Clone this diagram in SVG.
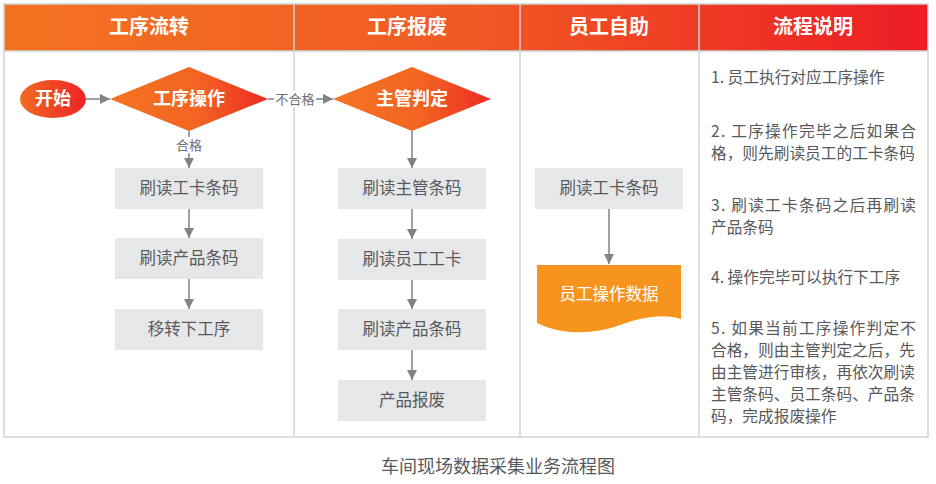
<svg xmlns="http://www.w3.org/2000/svg" width="936" height="484" viewBox="0 0 936 484">
<defs>
<linearGradient id="hdr" x1="0" y1="0" x2="1" y2="0">
<stop offset="0" stop-color="#f37321"/>
<stop offset="0.5" stop-color="#f05a24"/>
<stop offset="1" stop-color="#ed1c24"/>
</linearGradient>
<linearGradient id="dia" x1="0" y1="0" x2="1" y2="0">
<stop offset="0" stop-color="#f37321"/>
<stop offset="0.55" stop-color="#f26522"/>
<stop offset="1" stop-color="#ed2a24"/>
</linearGradient>
<linearGradient id="ell" x1="0" y1="0" x2="1" y2="0">
<stop offset="0" stop-color="#f36a22"/>
<stop offset="1" stop-color="#ed2324"/>
</linearGradient>
<marker id="arr" viewBox="0 0 10 10" refX="10" refY="5" markerWidth="10" markerHeight="10" markerUnits="userSpaceOnUse" orient="auto">
<path d="M0,0 L10,5 L0,10 Z" fill="#808285"/>
</marker>
<style>
text{font-family:"Noto Sans CJK SC","Noto Sans",sans-serif;}
.hd{fill:#fff;font-size:20px;font-weight:bold;text-anchor:middle;}
.wb{fill:#fff;font-size:18px;font-weight:bold;text-anchor:middle;}
.box{fill:#e6e7e8;}
.bt{fill:#58595b;font-size:16.5px;text-anchor:middle;}
.lbl{fill:#6d6e71;font-size:13px;text-anchor:middle;}
.note{fill:#58595b;font-size:15.7px;}
.ln{stroke:#808285;stroke-width:1.5;fill:none;marker-end:url(#arr);}
.grid{stroke:#d1d3d4;stroke-width:1.5;fill:none;}
</style>
</defs>
<rect x="0" y="0" width="936" height="484" fill="#fff"/>
<g id="table">
<rect x="4" y="4" width="924" height="47" fill="url(#hdr)"/>
<rect x="4" y="4" width="924" height="433" class="grid"/>
<line x1="4" y1="51" x2="928" y2="51" class="grid"/>
<line x1="294" y1="4" x2="294" y2="437" class="grid"/>
<line x1="520" y1="4" x2="520" y2="437" class="grid"/>
<line x1="699" y1="4" x2="699" y2="437" class="grid"/>
<text class="hd" x="149" y="34">工序流转</text>
<text class="hd" x="407" y="34">工序报废</text>
<text class="hd" x="609" y="34">员工自助</text>
<text class="hd" x="813" y="34">流程说明</text>
</g>
<g id="connectors">
<line class="ln" x1="86" y1="99" x2="110" y2="99"/>
<line class="ln" x1="268" y1="99" x2="333" y2="99"/>
<rect x="274" y="91" width="42" height="16" fill="#fff"/>
<text class="lbl" x="295" y="104">不合格</text>
<line class="ln" x1="189" y1="131" x2="189" y2="168"/>
<rect x="174" y="137" width="30" height="16" fill="#fff"/>
<text class="lbl" x="189" y="150">合格</text>
<line class="ln" x1="189" y1="209" x2="189" y2="238"/>
<line class="ln" x1="189" y1="279" x2="189" y2="309"/>
<line class="ln" x1="412" y1="131" x2="412" y2="168"/>
<line class="ln" x1="412" y1="209" x2="412" y2="239"/>
<line class="ln" x1="412" y1="280" x2="412" y2="309"/>
<line class="ln" x1="412" y1="350" x2="412" y2="380"/>
<line class="ln" x1="609" y1="209" x2="609" y2="264"/>
</g>
<g id="start">
<ellipse cx="53" cy="99" rx="33" ry="19" fill="url(#ell)"/>
<text class="wb" x="53" y="105">开始</text>
</g>
<g id="op">
<polygon points="110,99 189,67 268,99 189,131" fill="url(#dia)"/>
<text class="wb" x="189" y="105">工序操作</text>
</g>
<g id="judge">
<polygon points="333,99 412,67 491,99 412,131" fill="url(#dia)"/>
<text class="wb" x="412" y="105">主管判定</text>
</g>
<g id="c1b1"><rect class="box" x="115" y="168" width="148" height="41"/><text class="bt" x="189" y="194">刷读工卡条码</text></g>
<g id="c1b2"><rect class="box" x="115" y="238" width="148" height="41"/><text class="bt" x="189" y="264">刷读产品条码</text></g>
<g id="c1b3"><rect class="box" x="115" y="309" width="148" height="41"/><text class="bt" x="189" y="335">移转下工序</text></g>
<g id="c2b1"><rect class="box" x="338" y="168" width="148" height="41"/><text class="bt" x="412" y="194">刷读主管条码</text></g>
<g id="c2b2"><rect class="box" x="338" y="239" width="148" height="41"/><text class="bt" x="412" y="265">刷读员工工卡</text></g>
<g id="c2b3"><rect class="box" x="338" y="309" width="148" height="41"/><text class="bt" x="412" y="335">刷读产品条码</text></g>
<g id="c2b4"><rect class="box" x="338" y="380" width="148" height="41"/><text class="bt" x="412" y="406">产品报废</text></g>
<g id="c3b1"><rect class="box" x="535" y="168" width="148" height="41"/><text class="bt" x="609" y="194">刷读工卡条码</text></g>
<g id="c3doc">
<path d="M537,265 H681 V319 C662,313 640,318 620,325 C598,333 565,337 537,323 Z" fill="#f7941d"/>
<text class="bt" x="609" y="300" style="fill:#fff">员工操作数据</text>
</g>
<g id="notes">
<text class="note" x="711" y="83">1. 员工执行对应工序操作</text>
<text class="note" x="711" y="137" textLength="205" lengthAdjust="spacing">2. 工序操作完毕之后如果合</text>
<text class="note" x="711" y="159">格，则先刷读员工的工卡条码</text>
<text class="note" x="711" y="211" textLength="205" lengthAdjust="spacing">3. 刷读工卡条码之后再刷读</text>
<text class="note" x="711" y="233">产品条码</text>
<text class="note" x="711" y="283">4. 操作完毕可以执行下工序</text>
<text class="note" x="711" y="334" textLength="205" lengthAdjust="spacing">5. 如果当前工序操作判定不</text>
<text class="note" x="711" y="356">合格，则由主管判定之后，先</text>
<text class="note" x="711" y="378">由主管进行审核，再依次刷读</text>
<text class="note" x="711" y="400">主管条码、员工条码、产品条</text>
<text class="note" x="711" y="422">码，完成报废操作</text>
</g>
<text x="498" y="473" style="fill:#58595b;font-size:18px;text-anchor:middle;">车间现场数据采集业务流程图</text>
</svg>
